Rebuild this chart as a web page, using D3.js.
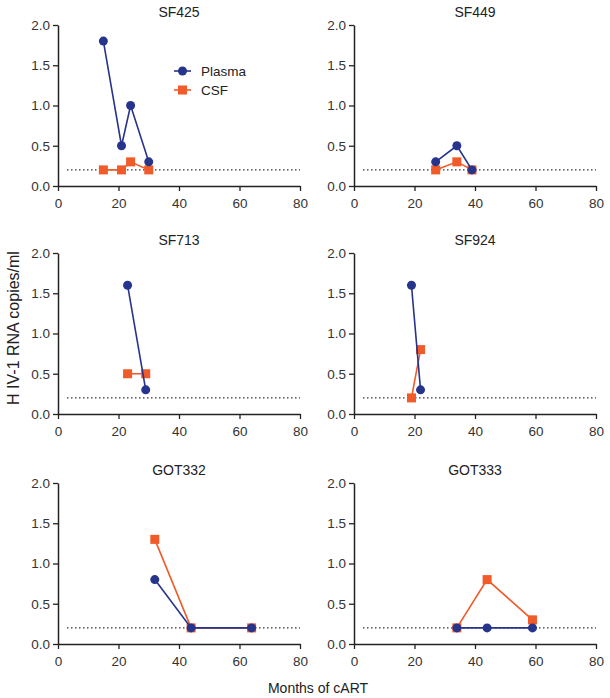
<!DOCTYPE html>
<html>
<head>
<meta charset="utf-8">
<script src="https://cdn.jsdelivr.net/npm/d3@7"></script>
<style>
  body { margin: 0; background: #fff; }
  svg { display: block; font-family: "Liberation Sans", Arial, sans-serif; }
</style>
</head>
<body>
<svg id="chart" width="610" height="698"></svg>
<script>
// patient ids, one panel each
const patients = ['SF425', 'SF449', 'SF713', 'SF924', 'GOT332', 'GOT333'];

// months of cART for each sample
const months = [
  [15, 21, 24, 30],
  [27, 34, 39],
  [23, 29],
  [19, 22],
  [32, 44, 64],
  [34, 44, 59]
];
const plasma = [
  [1.8, 0.5, 1.0, 0.3],
  [0.3, 0.5, 0.2],
  [1.6, 0.3],
  [1.6, 0.3],
  [0.8, 0.2, 0.2],
  [0.2, 0.2, 0.2]
];
const csf = [
  [0.2, 0.2, 0.3, 0.2],
  [0.2, 0.3, 0.2],
  [0.5, 0.5],
  [0.2, 0.8],
  [1.3, 0.2, 0.2],
  [0.2, 0.8, 0.3]
];

const xTicks = [0, 20, 40, 60, 80];
const yTicks = [0, 0.5, 1.0, 1.5, 2.0];
const detectionLimit = 0.2;

const blue = '#27348b';
const red = '#f15a29';

const svg = d3.select('#chart');

// panel layout
const colLeft = [58, 354];
const plotW = 242;
const rowTop = [25, 253, 483];
const plotH = 161;

const x = d3.scaleLinear().domain([0, 80]).range([0, plotW]);
const y = d3.scaleLinear().domain([0, 2]).range([plotH, 0]);

const line = d3.line().x(d => x(d[0])).y(d => y(d[1]));

patients.forEach((name, i) => {
  const g = svg.append('g')
    .attr('transform', `translate(${colLeft[i % 2]},${rowTop[Math.floor(i / 2)]})`);

  // title
  g.append('text')
    .attr('x', plotW / 2)
    .attr('y', -8)
    .attr('text-anchor', 'middle')
    .style('font-size', '14px')
    .style('font-weight', 'normal')
    .style('fill', '#222')
    .text(name);

  // detection limit
  g.append('line')
    .attr('x1', x(3)).attr('x2', x(80))
    .attr('y1', y(detectionLimit)).attr('y2', y(detectionLimit))
    .attr('stroke', '#222')
    .attr('stroke-width', 1.4)
    .attr('stroke-dasharray', '1.4,2.6');

  const xAxis = g.append('g')
    .attr('transform', `translate(0,${plotH})`)
    .call(d3.axisBottom(x).tickValues(xTicks).tickSize(5).tickSizeOuter(0));
  const yAxis = g.append('g')
    .call(d3.axisLeft(y).tickValues(yTicks).tickFormat(d3.format('.1f')).tickSize(5).tickSizeOuter(0));

  [xAxis, yAxis].forEach(a => {
    a.select('.domain').attr('stroke', '#222').attr('stroke-width', 1.5);
    a.selectAll('.tick line').attr('stroke', '#222').attr('stroke-width', 1.3);
    a.selectAll('.tick text')
      .style('font-size', '13.5px')
      .style('font-family', '"Liberation Sans", Arial, sans-serif')
      .attr('fill', '#333');
  });
  xAxis.selectAll('.tick text').attr('dy', '1.0em');

  const cData = months[i].map((m, k) => [m, csf[i][k]]);
  const pData = months[i].map((m, k) => [m, plasma[i][k]]);

  // CSF
  g.append('path').datum(cData)
    .attr('d', line).attr('fill', 'none')
    .attr('stroke', red).attr('stroke-width', 1.6);
  g.selectAll('.sq').data(cData).enter().append('rect')
    .attr('class', 'sq')
    .attr('x', d => x(d[0]) - 4.5).attr('y', d => y(d[1]) - 4.5)
    .attr('width', 9).attr('height', 9)
    .attr('fill', red);

  // Plasma
  g.append('path').datum(pData)
    .attr('d', line).attr('fill', 'none')
    .attr('stroke', blue).attr('stroke-width', 1.6);
  g.selectAll('.dot').data(pData).enter().append('circle')
    .attr('class', 'dot')
    .attr('cx', d => x(d[0])).attr('cy', d => y(d[1]))
    .attr('r', 4.5)
    .attr('fill', blue);

  // legend in first panel only
  if (i === 0) {
    const leg = g.append('g').attr('transform', 'translate(116,46)');
    [['Plasma', blue, 'circle'], ['CSF', red, 'square']].forEach((s, k) => {
      const row = leg.append('g').attr('transform', `translate(0,${k * 19})`);
      row.append('line').attr('x1', 0).attr('x2', 17)
        .attr('stroke', s[1]).attr('stroke-width', 1.6);
      if (s[2] === 'circle') {
        row.append('circle').attr('cx', 8.5).attr('r', 4.5).attr('fill', s[1]);
      } else {
        row.append('rect').attr('x', 4).attr('y', -4.5).attr('width', 9).attr('height', 9).attr('fill', s[1]);
      }
      row.append('text').attr('x', 27).attr('dy', '0.35em')
        .style('font-size', '13.5px').style('fill', '#222').text(s[0]);
    });
  }
});

// shared axis titles
svg.append('text')
  .attr('transform', 'translate(19,328) rotate(-90)')
  .attr('text-anchor', 'middle')
  .style('font-size', '16px')
  .style('fill', '#222')
  .text('H IV-1 RNA copies/ml');

svg.append('text')
  .attr('x', 318)
  .attr('y', 693)
  .attr('text-anchor', 'middle')
  .style('font-size', '14px')
  .style('fill', '#222')
  .text('Months of cART');
</script>
</body>
</html>
